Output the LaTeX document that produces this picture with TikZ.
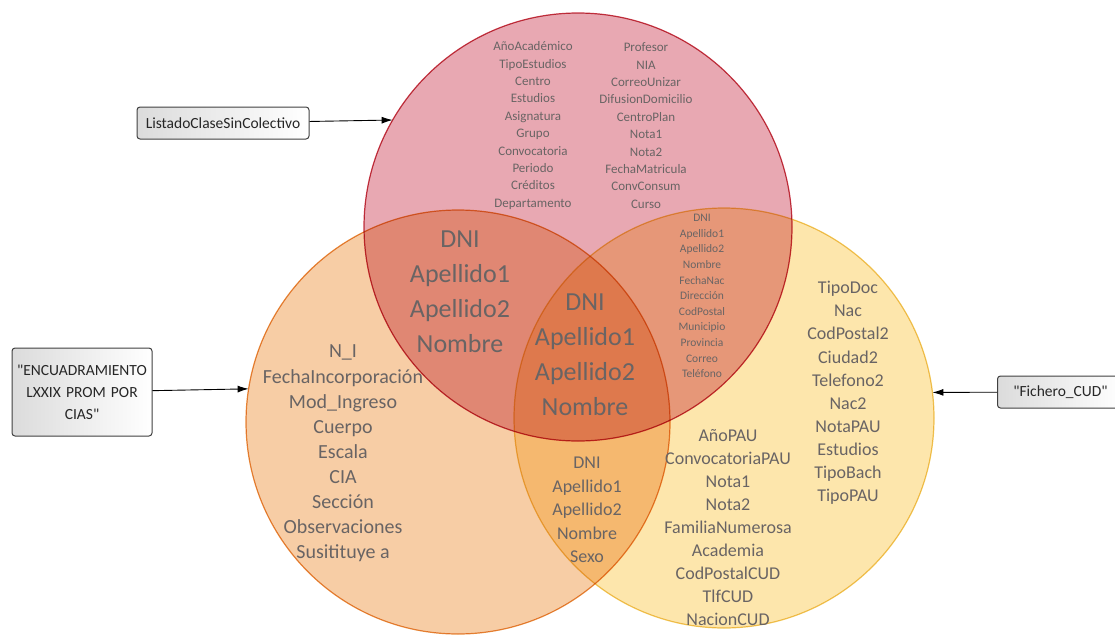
\documentclass[tikz,border=0pt]{standalone}
\usepackage{fontspec}
\setmainfont{Carlito}
\usepackage{tikz}
\usetikzlibrary{shapes, arrows.meta, positioning}

\definecolor{redfill}{RGB}{232,168,178}
\definecolor{redline}{RGB}{200,55,70}
\definecolor{orangefill}{RGB}{247,205,165}
\definecolor{orangeline}{RGB}{232,140,60}
\definecolor{yellowfill}{RGB}{253,230,172}
\definecolor{yellowline}{RGB}{240,200,90}
\definecolor{fieldgray}{RGB}{105,100,100}

\tikzset{
  setcircle/.style={circle, draw=#1line, fill=#1fill, line width=1.2pt, outer sep=0pt, inner sep=0pt},
  srcbox/.style={draw=black!75, rounded corners=3pt, line width=1pt, left color=black!14, right color=white,
    text=black!85, font=\fontsize{15.5}{22}\selectfont, align=center, inner sep=2pt},
  fields/.style={text=fieldgray, align=center, inner sep=0pt},
  feed/.style={-{Latex[length=11pt,width=7pt]}, line width=0.9pt}
}

\begin{document}
\begin{tikzpicture}[x=1pt, y=-1pt]
        \useasboundingbox (0,0) rectangle (1115,637);

        % Sets
        \begin{scope}[blend mode=multiply]
            \node[setcircle=red, minimum size=428pt] (listado) at (578,227) {};
            \node[setcircle=orange, minimum size=424pt] (encuadr) at (458,422) {};
            \node[setcircle=yellow, minimum size=420pt] (cud) at (724,418) {};
        \end{scope}

        % Sources
        \node[srcbox, minimum width=172pt, minimum height=32pt] (lbox) at (223,123) {ListadoClaseSinColectivo};
        \node[srcbox, minimum width=140pt, minimum height=88pt, text width=132pt] (ebox) at (82,392)
            {\textquotedbl ENCUADRAMIENTO\\LXXIX PROM POR\\CIAS\textquotedbl};
        \node[srcbox, minimum width=126pt, minimum height=32pt, anchor=west] (fbox) at (997,392)
            {\textquotedbl Fichero\_CUD\textquotedbl};

        % Arrows
        \draw[feed] (lbox) -- (listado.150.9);
        \draw[feed] (ebox) -- (encuadr.171.9);
        \draw[feed] (fbox) -- (cud.7.1);

        % Fields
        \node[fields, font=\fontsize{13}{17.4}\selectfont] (redA) at (533,125.5)
            {AñoAcadémico\\TipoEstudios\\Centro\\Estudios\\Asignatura\\Grupo\\Convocatoria\\Periodo\\Créditos\\Departamento};
        \node[fields, font=\fontsize{13}{17.4}\selectfont] (redB) at (646,125.5)
            {Profesor\\NIA\\CorreoUnizar\\DifusionDomicilio\\CentroPlan\\Nota1\\Nota2\\FechaMatricula\\ConvConsum\\Curso};
        \node[fields, font=\fontsize{11.5}{15.6}\selectfont] (redyel) at (702,296)
            {DNI\\Apellido1\\Apellido2\\Nombre\\FechaNac\\Dirección\\CodPostal\\Municipio\\Provincia\\Correo\\Teléfono};
        \node[fields, font=\fontsize{26}{35}\selectfont] (redora) at (460,292)
            {DNI\\Apellido1\\Apellido2\\Nombre};
        \node[fields, font=\fontsize{26}{35}\selectfont] (allthree) at (585,354.5)
            {DNI\\Apellido1\\Apellido2\\Nombre};
        \node[fields, font=\fontsize{20}{25.1}\selectfont] (ora) at (343,453.5)
            {N\_I\\FechaIncorporación\\Mod\_Ingreso\\Cuerpo\\Escala\\CIA\\Sección\\Observaciones\\Susitituye a};
        \node[fields, font=\fontsize{18}{23.5}\selectfont] (orayel) at (587,510)
            {DNI\\Apellido1\\Apellido2\\Nombre\\Sexo};
        \node[fields, font=\fontsize{18}{23}\selectfont] (yelA) at (728,528)
            {AñoPAU\\ConvocatoriaPAU\\Nota1\\Nota2\\FamiliaNumerosa\\Academia\\CodPostalCUD\\TlfCUD\\NacionCUD};
        \node[fields, font=\fontsize{18}{23.1}\selectfont] (yelB) at (848,393)
            {TipoDoc\\Nac\\CodPostal2\\Ciudad2\\Telefono2\\Nac2\\NotaPAU\\Estudios\\TipoBach\\TipoPAU};
    \end{tikzpicture}
\end{document}
